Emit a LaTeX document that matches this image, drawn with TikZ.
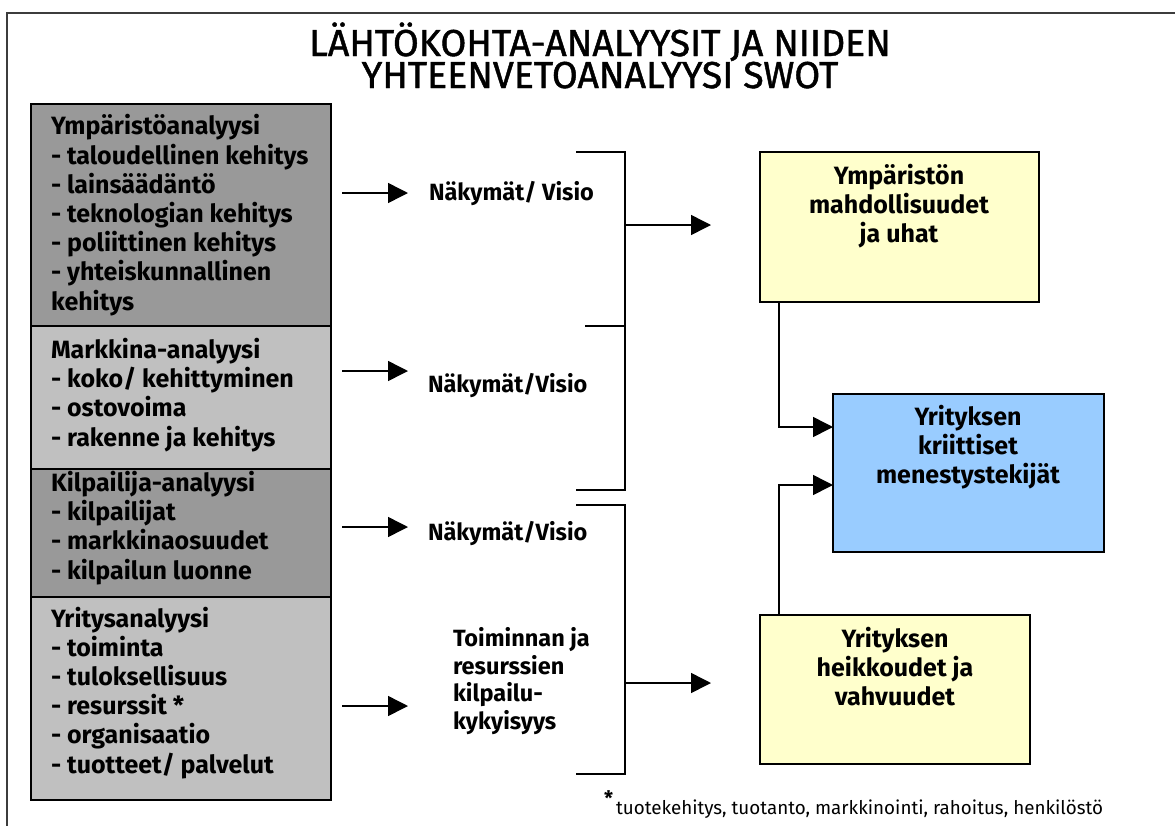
\documentclass[tikz,border=0pt]{standalone}
\usepackage{fontspec}
\setmainfont{Fira Sans}
\newfontfamily\headfont{Fira Sans}[FakeBold=1.2]
\usetikzlibrary{arrows.meta,calc}

\definecolor{darkpanel}{HTML}{999999}
\definecolor{lightpanel}{HTML}{C0C0C0}
\definecolor{paleyellow}{HTML}{FFFFCC}
\definecolor{paleblue}{HTML}{99CCFF}
\definecolor{framegray}{HTML}{3C3C3C}

\begin{document}
\begin{tikzpicture}[x=1pt,y=-1pt,
  every node/.style={inner sep=0pt, outer sep=0pt},
  panel/.style={draw=black, line width=1.6pt, anchor=north west},
  % multi-line nodes are placed by the baseline of their last line
  bodytext/.style={font=\fontsize{25}{29.2}\selectfont\bfseries, align=left, anchor=base west},
  sidetext/.style={font=\fontsize{23.5}{27.5}\selectfont\bfseries, align=left, anchor=base west},
  boxtext/.style={font=\fontsize{25}{29}\selectfont\bfseries, align=center, anchor=base},
  resultbox/.style={draw=black, line width=1.6pt, anchor=north west},
  arr/.style={line width=1.5pt, -{Triangle[length=20pt,width=20pt]}},
  link/.style={line width=1.5pt}
]
\useasboundingbox (0,0) rectangle (1175,825);

% outer frame (only top and left edges fall on the page)
\draw[framegray, line width=2.5pt] (7,830) -- (7,13) -- (1180,13);

% title
\node[font=\headfont\fontsize{37.5}{32}\selectfont, align=center, anchor=base] (title) at (600,88)
  {LÄHTÖKOHTA-ANALYYSIT JA NIIDEN\\YHTEENVETOANALYYSI SWOT};

% stacked analysis panels
\node[panel, fill=darkpanel, minimum width=300, minimum height=222] (p1) at (31,104) {};
\node[panel, fill=lightpanel, minimum width=300, minimum height=143] (p2) at (31,326) {};
\node[panel, fill=darkpanel, minimum width=300, minimum height=128] (p3) at (31,469) {};
\node[panel, fill=lightpanel, minimum width=300, minimum height=203] (p4) at (31,597) {};
\draw[line width=2.5pt] (p1.north west) -- ++(22,0);

\node[bodytext] (t1) at (51,310) {Ympäristöanalyysi\\- taloudellinen kehitys\\- lainsäädäntö\\- teknologian kehitys\\- poliittinen kehitys\\- yhteiskunnallinen\\kehitys};
\node[bodytext] (t2) at (51,446) {Markkina-analyysi\\- koko/ kehittyminen\\- ostovoima\\- rakenne ja kehitys};
\node[bodytext] (t3) at (51,579) {Kilpailija-analyysi\\- kilpailijat\\- markkinaosuudet\\- kilpailun luonne};
\node[bodytext] (t4) at (51,773) {Yritysanalyysi\\- toiminta\\- tuloksellisuus\\- resurssit *\\- organisaatio\\- tuotteet/ palvelut};

% outlook labels
\node[sidetext] (v1) at (429,200) {Näkymät/ Visio};
\node[sidetext] (v2) at (428,392) {Näkymät/Visio};
\node[sidetext] (v3) at (428,540) {Näkymät/Visio};
\node[sidetext] (v4) at (453,729) {Toiminnan ja\\resurssien\\kilpailu-\\kykyisyys};

% arrows from the panels
\coordinate (a1) at (342,193); \coordinate (a1e) at (408,193);
\coordinate (a2) at (342,371); \coordinate (a2e) at (408,371);
\coordinate (a3) at (342,527); \coordinate (a3e) at (408,527);
\coordinate (a4) at (342,706); \coordinate (a4e) at (408,706);
\draw[arr] (a1) -- (a1e);
\draw[arr] (a2) -- (a2e);
\draw[arr] (a3) -- (a3e);
\draw[arr] (a4) -- (a4e);

% brackets gathering the outlooks
\coordinate (k1t) at (576,152); \coordinate (k1m) at (585,326); \coordinate (k1b) at (576,490);
\coordinate (k2t) at (576,505); \coordinate (k2b) at (576,774);
\draw[link] (k1t) -- (625,152) -- (625,490) -- (k1b);
\draw[link] (k1m) -- (625,326);
\draw[link] (k2t) -- (625,505) -- (625,774) -- (k2b);

% result boxes
\node[resultbox, fill=paleyellow, minimum width=279, minimum height=150] (r1) at (760,152) {};
\node[resultbox, fill=paleblue, minimum width=271, minimum height=158] (r2) at (833,394) {};
\node[resultbox, fill=paleyellow, minimum width=270, minimum height=149] (r3) at (760,615) {};
\node[boxtext] (r1t) at (899,242) {Ympäristön\\mahdollisuudet\\ja uhat};
\node[boxtext] (r2t) at (968,483) {Yrityksen\\kriittiset\\menestystekijät};
\node[boxtext] (r3t) at (895,705) {Yrityksen\\heikkoudet ja\\vahvuudet};

% arrows from the brackets
\coordinate (b1) at (625,225); \coordinate (b1e) at (711,225);
\coordinate (b2) at (625,683); \coordinate (b2e) at (711,683);
\draw[arr] (b1) -- (b1e);
\draw[arr] (b2) -- (b2e);

% links into the critical success factors
\draw[arr] ([xshift=19pt]r1.south west) |- ([yshift=46pt]r2.west);
\draw[arr] ([xshift=19pt]r3.north west) |- ([yshift=-12pt]r2.west);

% footnote
\node[font=\fontsize{18.8}{20}\selectfont, anchor=base west] (fn) at (604,814)
  {\raisebox{0.45em}{\bfseries\fontsize{20}{20}\selectfont *}\,tuotekehitys, tuotanto, markkinointi, rahoitus, henkilöstö};
\end{tikzpicture}
\end{document}
